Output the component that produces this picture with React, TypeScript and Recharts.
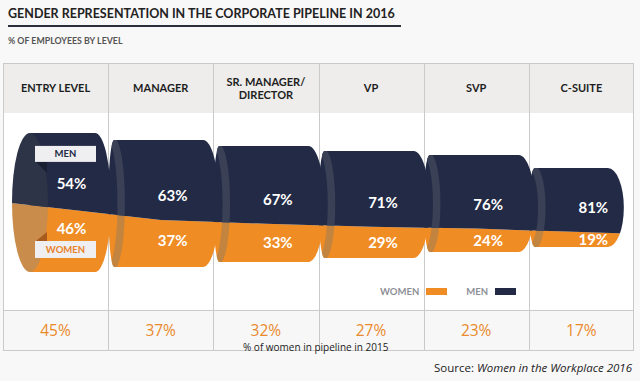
import React from 'react';
import { BarChart, Bar, XAxis, YAxis, Legend, LabelList } from 'recharts';

// ---------- data ----------
const LEVELS = ['ENTRY LEVEL', 'MANAGER', 'SR. MANAGER/\nDIRECTOR', 'VP', 'SVP', 'C-SUITE'];
const WOMEN_2016 = [46, 37, 33, 29, 24, 19];
const MEN_2016 = [54, 63, 67, 71, 76, 81];
const WOMEN_2015 = [45, 37, 32, 27, 23, 17];
const SERIES_NAMES = ['WOMEN', 'MEN'];

// ---------- layout / style ----------
const W = 640;
const H = 381;
const MARGIN = { top: 63, right: 6, bottom: 71, left: 3 };
const HEADER_H = 50;
const PLOT_TOP = MARGIN.top + HEADER_H;
const PLOT_BOTTOM = H - MARGIN.bottom;
const PLOT_H = PLOT_BOTTOM - PLOT_TOP;
const PLOT_LEFT = MARGIN.left;
const PLOT_W = W - MARGIN.left - MARGIN.right;
const TABLE_BOTTOM = PLOT_BOTTOM + 41;

// decorative pipe geometry (fractions of plot height)
const PIPE_SIZE = [0.706, 0.645, 0.589, 0.543, 0.492, 0.401];
const PIPE_MID = [0.454, 0.459, 0.462, 0.464, 0.459, 0.48];

const NAVY = '#222a45';
const ORANGE = '#f08c24';
const HEAD_FONT = "Lato, 'Open Sans', sans-serif";
const BODY_FONT = "'Open Sans', 'Liberation Sans', sans-serif";
const GRID = '#cacaca';

const rows = LEVELS.map((level, idx) => ({
  level,
  idx,
  women: WOMEN_2016[idx],
  men: MEN_2016[idx],
  prev: WOMEN_2015[idx],
})).reverse();

function pipe(i: number) {
  const mid = PLOT_TOP + PIPE_MID[i] * PLOT_H;
  const h = PIPE_SIZE[i] * PLOT_H;
  return { T: mid - h / 2, B: mid + h / 2 };
}

function neighbourSplit(j: number) {
  const p = pipe(j);
  const f = WOMEN_2016[j] / (WOMEN_2016[j] + MEN_2016[j]);
  return p.B - f * (p.B - p.T);
}

function Segment(props: any) {
  const { x, y, width, height, payload, series } = props;
  if (x == null || payload == null) return null;
  const i: number = payload.idx;
  const last = LEVELS.length - 1;
  const { T, B } = pipe(i);
  const isMen = series === 'men';
  const splitPx = isMen ? y + height : y;
  const splitFrac = (PLOT_BOTTOM - splitPx) / PLOT_H;
  const sC = B - splitFrac * (B - T);
  const x0 = x;
  const x1 = x + width;
  const cx = x + width / 2;
  const sL = i > 0 ? (neighbourSplit(i - 1) + sC) / 2 : sC - (neighbourSplit(1) - sC) / 2;
  const sR = i < last ? (sC + neighbourSplit(i + 1)) / 2 : sC + (sC - neighbourSplit(i - 1)) / 2;
  const splitAt = (X: number) =>
    X <= cx ? sC + ((X - cx) * (sC - sL)) / (cx - x0) : sC + ((X - cx) * (sR - sC)) / (x1 - cx);

  const xa = x0 - 40;
  const xb = x1 + 40;
  const band = isMen
    ? `M${xa},${T - 20} L${xb},${T - 20} L${xb},${splitAt(xb)} L${cx},${sC} L${xa},${splitAt(xa)} Z`
    : `M${xa},${splitAt(xa)} L${cx},${sC} L${xb},${splitAt(xb)} L${xb},${B + 20} L${xa},${B + 20} Z`;

  const rx = 16;
  const ry = (B - T) / 2;
  const mid = (T + B) / 2;
  const endExt = i === 0 ? 3 : i === last ? -10 : 6;
  const R = x1 + endExt;
  const sil =
    i === 0
      ? `M${x0 + 27},${T} H${R - rx} A${rx},${ry} 0 0 1 ${R - rx},${B} H${x0 + 27} Z`
      : `M${x0 + 6},${T} H${R - rx} A${rx},${ry} 0 0 1 ${R - rx},${B} H${x0 + 6} A6,${ry} 0 0 1 ${x0 + 6},${T} Z`;

  const main = isMen ? NAVY : ORANGE;
  const ring = isMen ? '#3a4055' : '#c3843f';
  const face = isMen ? '#2d3448' : '#c98c4a';
  const bandId = `band-${series}-${i}`;
  const silId = `sil-${series}-${i}`;

  const dx = i === 0 ? 16 : 12;
  const labelY = isMen ? sC - 24 : Math.min(sC + 21, (sC + B) / 2);
  const value = payload[series];

  return (
    <g>
      <defs>
        <clipPath id={bandId}>
          <path d={band} />
        </clipPath>
        <clipPath id={silId}>
          <path d={sil} />
        </clipPath>
      </defs>
      <g clipPath={`url(#${bandId})`}>
        <path d={sil} fill={main} />
        {i === 0 ? (
          <ellipse cx={x0 + 27} cy={mid} rx={18} ry={ry} fill={face} />
        ) : (
          <g clipPath={`url(#${silId})`}>
            <path d={`M${x0 + 3},${T} A10,${ry} 0 0 1 ${x0 + 3},${B}`} fill="none" stroke={ring} strokeWidth={7.5} />
          </g>
        )}
      </g>
      {i === 0 && isMen && (
        <g>
          <polygon points={`${x0 + 33},${T + 29} ${x0 + 44},${T + 29} ${x0 + 44},${T + 40}`} fill="#1a2033" />
          <rect x={x0 + 32} y={T + 13} width={61} height={16} fill="#efeef0" />
          <text x={x0 + 62.5} y={T + 21 + 3.4} textAnchor="middle" fontFamily={HEAD_FONT} fontWeight={700} fontSize={9.5} fill={NAVY}>
            {SERIES_NAMES[1]}
          </text>
        </g>
      )}
      {i === 0 && !isMen && (
        <g>
          <polygon points={`${x0 + 33},${B - 31} ${x0 + 44},${B - 31} ${x0 + 44},${B - 40}`} fill="#a65a1c" />
          <rect x={x0 + 32} y={B - 31} width={61} height={17} fill="#efeef0" />
          <text x={x0 + 62.5} y={B - 22.5 + 3.4} textAnchor="middle" fontFamily={HEAD_FONT} fontWeight={700} fontSize={9.5} fill="#e8822a">
            {SERIES_NAMES[0]}
          </text>
        </g>
      )}
      <text x={cx + dx} y={labelY + 5.4} textAnchor="middle" fontFamily={HEAD_FONT} fontWeight={700} fontSize={15} fill="#ffffff">
        {`${value}%`}
      </text>
    </g>
  );
}

const HeaderTick = (props: any) => {
  const { x, payload } = props;
  const lines = String(payload.value).split('\n');
  const center = MARGIN.top + HEADER_H / 2 + 0.5;
  const lh = 13;
  const fs = 11;
  const start = center - ((lines.length - 1) * lh) / 2;
  return (
    <text textAnchor="middle" fontFamily={HEAD_FONT} fontWeight={700} fontSize={fs} fill="#1e1e1e">
      {lines.map((l, k) => (
        <tspan key={k} x={x} y={start + k * lh + fs * 0.36}>
          {l}
        </tspan>
      ))}
    </text>
  );
};

const PrevLabel = (props: any) => {
  const vb = props.viewBox || props;
  const cx = vb.x + vb.width / 2;
  return (
    <text x={cx} y={PLOT_BOTTOM + 20 + 5.5} textAnchor="middle" fontFamily={BODY_FONT} fontSize={15.5} fill="#e98a2c">
      {`${props.value}%`}
    </text>
  );
};

const LegendContent = (props: any) => {
  const payload = [...(props.payload || [])].sort(
    (a: any, b: any) => SERIES_NAMES.indexOf(a.value) - SERIES_NAMES.indexOf(b.value)
  );
  return (
    <div style={{ display: 'flex', alignItems: 'center', fontFamily: HEAD_FONT, fontWeight: 700, fontSize: 9.5, color: '#8e9097', whiteSpace: 'nowrap' }}>
      {payload.map((p: any, k: number) => (
        <div key={k} style={{ display: 'flex', alignItems: 'center', marginRight: k === 0 ? 19 : 0 }}>
          <span>{p.value}</span>
          <span style={{ display: 'inline-block', width: 21, height: 7, background: p.color, marginLeft: 7 }} />
        </div>
      ))}
    </div>
  );
};

export default function App() {
  const colW = PLOT_W / LEVELS.length;
  return (
    <div style={{ position: 'absolute', left: 0, top: 0, width: W, height: H, overflow: 'hidden', background: '#f9f8f8' }}>
      {/* title */}
      <div style={{ position: 'absolute', left: 8, top: 6, fontFamily: HEAD_FONT, fontWeight: 700, fontSize: 12.5, color: '#222', whiteSpace: 'nowrap', lineHeight: '16px' }}>
        GENDER REPRESENTATION IN THE CORPORATE PIPELINE IN 2016
      </div>
      <div style={{ position: 'absolute', left: 8, top: 25, width: 393, height: 1.5, background: '#2c2f3c' }} />
      <div style={{ position: 'absolute', left: 8, top: 35, fontFamily: HEAD_FONT, fontWeight: 700, fontSize: 8.8, color: '#555', whiteSpace: 'nowrap', lineHeight: '12px' }}>
        % OF EMPLOYEES BY LEVEL
      </div>

      {/* table background */}
      <div style={{ position: 'absolute', left: PLOT_LEFT, top: MARGIN.top, width: PLOT_W, height: HEADER_H, background: '#eeedeb' }} />
      <div style={{ position: 'absolute', left: PLOT_LEFT, top: PLOT_TOP, width: PLOT_W, height: PLOT_H, background: '#ffffff' }} />
      <div style={{ position: 'absolute', left: PLOT_LEFT, top: PLOT_BOTTOM, width: PLOT_W, height: TABLE_BOTTOM - PLOT_BOTTOM, background: '#f8f7f7' }} />
      <div style={{ position: 'absolute', left: PLOT_LEFT, top: MARGIN.top, width: PLOT_W, height: TABLE_BOTTOM - MARGIN.top, border: `1px solid ${GRID}`, boxSizing: 'border-box' }} />
      <div style={{ position: 'absolute', left: PLOT_LEFT, top: PLOT_BOTTOM, width: PLOT_W, height: 1, background: GRID }} />
      {LEVELS.slice(1).map((_, k) => (
        <div key={k} style={{ position: 'absolute', left: Math.round(PLOT_LEFT + colW * (k + 1)), top: MARGIN.top, width: 1, height: TABLE_BOTTOM - MARGIN.top, background: GRID }} />
      ))}

      <div style={{ position: 'absolute', left: 0, top: 0 }}>
        <BarChart width={W} height={H} data={rows} margin={MARGIN} barCategoryGap={0} barGap={0}>
          <XAxis
            dataKey="level"
            orientation="top"
            reversed
            height={HEADER_H}
            axisLine={false}
            tickLine={false}
            interval={0}
            tick={<HeaderTick />}
          />
          <YAxis hide type="number" domain={[0, 100]} />
          <Legend
            layout="horizontal"
            verticalAlign="middle"
            align="center"
            content={<LegendContent />}
            wrapperStyle={{ left: 380, top: 286, width: 170, height: 14 }}
          />
          <Bar
            dataKey="women"
            name={SERIES_NAMES[0]}
            stackId="pipe"
            fill={ORANGE}
            isAnimationActive={false}
            shape={(p: any) => <Segment {...p} series="women" />}
          />
          <Bar
            dataKey="men"
            name={SERIES_NAMES[1]}
            stackId="pipe"
            fill={NAVY}
            isAnimationActive={false}
            shape={(p: any) => <Segment {...p} series="men" />}
          >
            <LabelList dataKey="prev" content={<PrevLabel />} />
          </Bar>
        </BarChart>
      </div>

      {/* captions */}
      <div style={{ position: 'absolute', left: 243, top: 340, fontFamily: BODY_FONT, fontSize: 10, color: '#222', whiteSpace: 'nowrap', lineHeight: '14px' }}>
        % of women in pipeline in 2015
      </div>
      <div style={{ position: 'absolute', right: 8, top: 360, fontFamily: BODY_FONT, fontSize: 11.5, color: '#222', whiteSpace: 'nowrap', lineHeight: '16px' }}>
        Source: <i>Women in the Workplace 2016</i>
      </div>
    </div>
  );
}
